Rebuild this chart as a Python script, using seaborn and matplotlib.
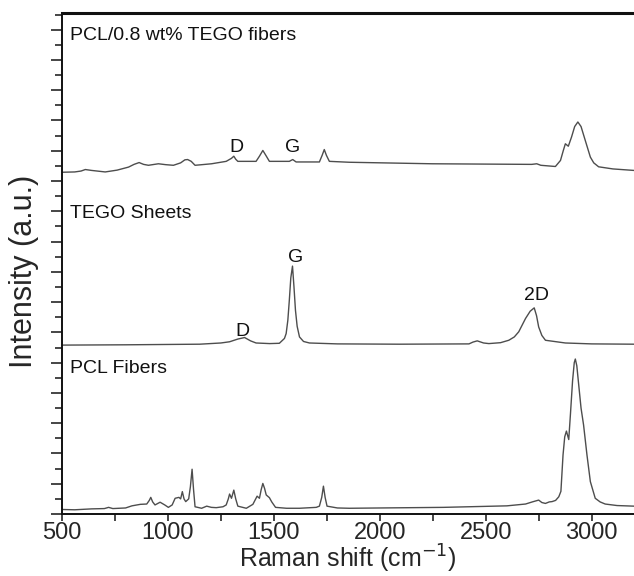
import numpy as np
import pandas as pd
import seaborn as sns
import matplotlib.pyplot as plt
from matplotlib.ticker import MultipleLocator, NullFormatter

# --- spectra (offset already included) ---
pcl_shift = [500, 560, 640, 700, 720, 740, 800, 830, 870, 900, 912, 919, 928, 939, 963, 985,
             1002, 1020, 1034, 1052, 1060, 1068, 1076, 1084, 1098, 1106, 1114, 1121, 1128, 1159,
             1183, 1205, 1228, 1260, 1275, 1285, 1291, 1300, 1311, 1320, 1330, 1370, 1401, 1421,
             1432, 1440, 1448, 1456, 1464, 1479, 1490, 1508, 1560, 1621, 1700, 1715, 1726, 1734,
             1742, 1751, 1800, 1856, 2000, 2300, 2600, 2688, 2720, 2750, 2765, 2782, 2800, 2813,
             2830, 2845, 2855, 2865, 2873, 2881, 2892, 2900, 2910, 2918, 2923, 2930, 2940, 2950,
             2962, 2978, 2994, 3017, 3040, 3064, 3120, 3200]
pcl_int = [0.15, 0.14, 0.17, 0.18, 0.22, 0.18, 0.20, 0.27, 0.32, 0.33, 0.45, 0.55, 0.40, 0.30, 0.39, 0.30,
           0.22, 0.30, 0.52, 0.55, 0.50, 0.74, 0.50, 0.41, 0.50, 0.90, 1.48, 0.80, 0.24, 0.19,
           0.26, 0.22, 0.21, 0.24, 0.30, 0.50, 0.66, 0.52, 0.79, 0.50, 0.26, 0.19, 0.32, 0.59,
           0.52, 0.80, 1.01, 0.85, 0.63, 0.54, 0.40, 0.22, 0.19, 0.19, 0.22, 0.26, 0.55, 0.92,
           0.55, 0.26, 0.20, 0.19, 0.20, 0.22, 0.27, 0.33, 0.40, 0.46, 0.38, 0.35, 0.40, 0.41,
           0.45, 0.57, 0.75, 1.95, 2.55, 2.74, 2.46, 3.30, 4.40, 5.00, 5.12, 4.90, 4.20, 3.50,
           2.94, 1.95, 1.07, 0.52, 0.40, 0.33, 0.28, 0.26]

tego_shift = [500, 800, 1150, 1250, 1291, 1330, 1362, 1390, 1416, 1480, 1526, 1550, 1558, 1566,
              1573, 1580, 1588, 1595, 1602, 1610, 1621, 1640, 1668, 1800, 2091, 2421, 2440, 2460,
              2490, 2515, 2570, 2609, 2635, 2656, 2688, 2710, 2729, 2740, 2750, 2765, 2782, 2876,
              3000, 3200]
tego_int = [5.58, 5.59, 5.61, 5.65, 5.69, 5.78, 5.83, 5.72, 5.65, 5.63, 5.64, 5.80, 5.96, 6.40,
            7.06, 7.80, 8.19, 7.50, 6.73, 6.20, 5.85, 5.70, 5.65, 5.62, 5.61, 5.62, 5.68, 5.72,
            5.65, 5.63, 5.66, 5.74, 5.85, 6.02, 6.46, 6.70, 6.81, 6.55, 6.18, 5.90, 5.74, 5.65,
            5.62, 5.61]

comp_shift = [500, 560, 590, 610, 640, 704, 760, 814, 840, 864, 885, 908, 955, 990, 1026, 1060,
              1080, 1093, 1110, 1128, 1160, 1206, 1275, 1300, 1311, 1320, 1330, 1416, 1432, 1448,
              1462, 1479, 1573, 1589, 1605, 1715, 1728, 1738, 1748, 1762, 1856, 2247, 2717, 2741,
              2760, 2829, 2853, 2866, 2876, 2890, 2905, 2920, 2935, 2950, 2970, 2994, 3010, 3033,
              3100, 3200]
comp_int = [11.29, 11.30, 11.33, 11.38, 11.35, 11.30, 11.36, 11.46, 11.55, 11.61, 11.55, 11.52,
            11.57, 11.54, 11.52, 11.60, 11.70, 11.71, 11.65, 11.52, 11.54, 11.57, 11.65, 11.75,
            11.82, 11.72, 11.65, 11.65, 11.82, 12.01, 11.85, 11.65, 11.65, 11.71, 11.63, 11.63,
            11.85, 12.04, 11.85, 11.65, 11.62, 11.57, 11.55, 11.57, 11.52, 11.48, 11.68, 12.00,
            12.23, 12.15, 12.45, 12.80, 12.95, 12.80, 12.34, 11.79, 11.60, 11.47, 11.40, 11.35]

series_names = ['PCL/0.8 wt% TEGO fibers', 'TEGO Sheets', 'PCL Fibers']
series_pos = [15.8, 9.93, 4.82]

peak_names = ['D', 'G', 'D', 'G', '2D']
peak_shift = [1322, 1589, 1354, 1602, 2738]
peak_pos = [12.12, 12.11, 6.02, 8.49, 7.23]

df = pd.concat([
    pd.DataFrame({'shift': comp_shift, 'intensity': comp_int, 'sample': series_names[0]}),
    pd.DataFrame({'shift': tego_shift, 'intensity': tego_int, 'sample': series_names[1]}),
    pd.DataFrame({'shift': pcl_shift, 'intensity': pcl_int, 'sample': series_names[2]}),
])

sns.set_style('ticks')
plt.rcParams['font.family'] = ['Liberation Sans', 'DejaVu Sans']

fig = plt.figure(figsize=(6.34, 5.76), dpi=100)
ax = fig.add_axes([0.0978, 0.1076, 0.9022, 0.8698])

gray = '#4d4d4d'
sns.lineplot(data=df, x='shift', y='intensity', hue='sample', units='sample', estimator=None,
             sort=False, palette=[gray] * 3, linewidth=1.0, legend=False, ax=ax)

for name, pos in zip(series_names, series_pos):
    ax.text(538, pos, name, fontsize=14, va='center', ha='left', color='#111111')
for name, sx, pos in zip(peak_names, peak_shift, peak_pos):
    ax.text(sx, pos, name, fontsize=14, va='center', ha='center', color='#111111')

ax.set_xlim(500, 3200)
ax.set_ylim(0, 16.55)
ax.xaxis.set_major_locator(MultipleLocator(500))
ax.xaxis.set_minor_locator(MultipleLocator(250))
ax.yaxis.set_major_locator(MultipleLocator(1))
ax.yaxis.set_minor_locator(MultipleLocator(0.5))
ax.yaxis.set_major_formatter(NullFormatter())

ax.tick_params(axis='x', which='both', direction='out', length=5, width=1.2, labelsize=17, pad=1)
ax.tick_params(axis='y', which='major', direction='out', length=8, width=1.2)
ax.tick_params(axis='y', which='minor', direction='out', length=5, width=1.2, left=True)
ax.tick_params(axis='x', which='minor', bottom=True)

ax.spines['right'].set_visible(False)
ax.spines['top'].set_linewidth(2.2)
ax.spines['left'].set_linewidth(1.4)
ax.spines['bottom'].set_linewidth(1.4)
for s in ax.spines.values():
    s.set_color('#111111')

ax.set_xlabel('Raman shift (cm$^{-1}$)', fontsize=18, labelpad=-1)
ax.set_ylabel('Intensity (a.u.)', fontsize=22)
ax.yaxis.set_label_coords(-0.04, 0.485)

fig.savefig('out.png', dpi=100)
